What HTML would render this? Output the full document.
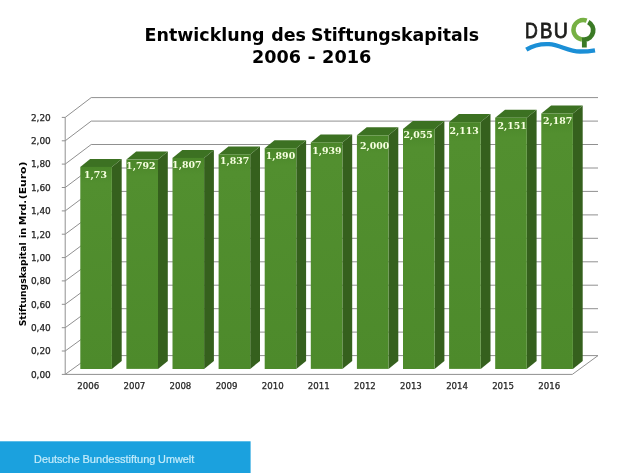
<!DOCTYPE html>
<html lang="de"><head><meta charset="utf-8"><title>Entwicklung des Stiftungskapitals 2006 - 2016</title>
<style>html,body{margin:0;padding:0;background:#fff}body{width:630px;height:473px;overflow:hidden}svg{display:block}.t{font-family:"DejaVu Sans","Liberation Sans",sans-serif;font-weight:bold;font-size:17px;fill:#000}.ax{font-family:"DejaVu Sans","Liberation Sans",sans-serif;font-size:8px;fill:#262626;stroke:#262626;stroke-width:0.25px}.yt{font-family:"DejaVu Sans","Liberation Sans",sans-serif;font-weight:bold;font-size:9.4px;fill:#000}.dl{font-family:"DejaVu Serif","Liberation Serif",serif;font-weight:bold;font-size:9.4px;fill:#f7ffe0}.ft{font-family:"Liberation Sans",sans-serif;font-size:11px;fill:#c4ecfb;stroke:#c4ecfb;stroke-width:0.2px}.lg{font-family:"Liberation Sans",sans-serif;font-size:21.3px;fill:#1d1d1b;stroke:#1d1d1b;stroke-width:0.8px}</style></head><body>
<svg width="630" height="473" viewBox="0 0 630 473">
<defs><linearGradient id="gf" x1="0" y1="0" x2="0" y2="1"><stop offset="0" stop-color="#4a8629"/><stop offset="0.08" stop-color="#528f2f"/><stop offset="1" stop-color="#4d8a2b"/></linearGradient></defs>
<rect width="630" height="473" fill="#fff"/>
<text class="t" x="144.6" y="41.2" textLength="120" lengthAdjust="spacingAndGlyphs">Entwicklung</text>
<text class="t" x="271.2" y="41.2" textLength="34.8" lengthAdjust="spacingAndGlyphs">des</text>
<text class="t" x="311" y="41.2" textLength="168" lengthAdjust="spacingAndGlyphs">Stiftungskapitals</text>
<text class="t" x="251.9" y="62.8" textLength="49" lengthAdjust="spacingAndGlyphs">2006</text>
<text class="t" x="307.4" y="62.8" textLength="8.2" lengthAdjust="spacingAndGlyphs">-</text>
<text class="t" x="322.1" y="62.8" textLength="49.3" lengthAdjust="spacingAndGlyphs">2016</text>
<path d="M61.8 374.4H65.2L91.2 355.6H598.0 M61.8 351.0H65.2L91.2 332.1H598.0 M61.8 327.7H65.2L91.2 308.7H598.0 M61.8 304.3H65.2L91.2 285.2H598.0 M61.8 280.9H65.2L91.2 261.8H598.0 M61.8 257.6H65.2L91.2 238.3H598.0 M61.8 234.2H65.2L91.2 214.9H598.0 M61.8 210.9H65.2L91.2 191.4H598.0 M61.8 187.5H65.2L91.2 168.0H598.0 M61.8 164.1H65.2L91.2 144.5H598.0 M61.8 140.8H65.2L91.2 121.1H598.0 M61.8 117.4H65.2L91.2 97.6H598.0 M65.2 117.4V374.4H572.3L598.0 355.6" fill="none" stroke="#909090" stroke-width="1"/>
<path d="M111.9 368.9L121.7 360.9V158.9L111.9 166.9Z" fill="#35601d"/>
<path d="M80.3 166.9L90.1 158.9H121.7L111.9 166.9Z" fill="#3c7122"/>
<rect x="80.3" y="166.9" width="31.6" height="202.1" fill="url(#gf)"/>
<text class="dl" x="95.5" y="178.2" text-anchor="middle">1,73</text>
<text class="ax" x="88.2" y="388.6" text-anchor="middle" textLength="21.9" lengthAdjust="spacingAndGlyphs">2006</text>
<path d="M158.0 368.9L167.8 360.9V151.6L158.0 159.6Z" fill="#35601d"/>
<path d="M126.4 159.6L136.2 151.6H167.8L158.0 159.6Z" fill="#3c7122"/>
<rect x="126.4" y="159.6" width="31.6" height="209.3" fill="url(#gf)"/>
<text class="dl" x="140.8" y="168.7" text-anchor="middle">1,792</text>
<text class="ax" x="134.4" y="388.6" text-anchor="middle" textLength="21.9" lengthAdjust="spacingAndGlyphs">2007</text>
<path d="M204.1 368.9L213.9 360.9V149.9L204.1 157.9Z" fill="#35601d"/>
<path d="M172.5 157.9L182.3 149.9H213.9L204.1 157.9Z" fill="#3c7122"/>
<rect x="172.5" y="157.9" width="31.6" height="211.1" fill="url(#gf)"/>
<text class="dl" x="186.8" y="168.1" text-anchor="middle">1,807</text>
<text class="ax" x="180.4" y="388.6" text-anchor="middle" textLength="21.9" lengthAdjust="spacingAndGlyphs">2008</text>
<path d="M250.2 368.9L260.0 360.9V146.4L250.2 154.4Z" fill="#35601d"/>
<path d="M218.6 154.4L228.4 146.4H260.0L250.2 154.4Z" fill="#3c7122"/>
<rect x="218.6" y="154.4" width="31.6" height="214.6" fill="url(#gf)"/>
<text class="dl" x="234.6" y="163.9" text-anchor="middle">1,837</text>
<text class="ax" x="226.6" y="388.6" text-anchor="middle" textLength="21.9" lengthAdjust="spacingAndGlyphs">2009</text>
<path d="M296.3 368.9L306.1 360.9V140.2L296.3 148.2Z" fill="#35601d"/>
<path d="M264.7 148.2L274.5 140.2H306.1L296.3 148.2Z" fill="#3c7122"/>
<rect x="264.7" y="148.2" width="31.6" height="220.8" fill="url(#gf)"/>
<text class="dl" x="280.5" y="158.7" text-anchor="middle">1,890</text>
<text class="ax" x="272.7" y="388.6" text-anchor="middle" textLength="21.9" lengthAdjust="spacingAndGlyphs">2010</text>
<path d="M342.4 368.9L352.2 360.9V134.4L342.4 142.4Z" fill="#35601d"/>
<path d="M310.8 142.4L320.6 134.4H352.2L342.4 142.4Z" fill="#3c7122"/>
<rect x="310.8" y="142.4" width="31.6" height="226.5" fill="url(#gf)"/>
<text class="dl" x="326.9" y="153.9" text-anchor="middle">1,939</text>
<text class="ax" x="318.8" y="388.6" text-anchor="middle" textLength="21.9" lengthAdjust="spacingAndGlyphs">2011</text>
<path d="M388.5 368.9L398.3 360.9V127.3L388.5 135.3Z" fill="#35601d"/>
<path d="M356.9 135.3L366.7 127.3H398.3L388.5 135.3Z" fill="#3c7122"/>
<rect x="356.9" y="135.3" width="31.6" height="233.6" fill="url(#gf)"/>
<text class="dl" x="374.6" y="148.8" text-anchor="middle">2,000</text>
<text class="ax" x="364.9" y="388.6" text-anchor="middle" textLength="21.9" lengthAdjust="spacingAndGlyphs">2012</text>
<path d="M434.6 368.9L444.4 360.9V120.9L434.6 128.9Z" fill="#35601d"/>
<path d="M403.0 128.9L412.8 120.9H444.4L434.6 128.9Z" fill="#3c7122"/>
<rect x="403.0" y="128.9" width="31.6" height="240.1" fill="url(#gf)"/>
<text class="dl" x="418.1" y="138.3" text-anchor="middle">2,055</text>
<text class="ax" x="410.9" y="388.6" text-anchor="middle" textLength="21.9" lengthAdjust="spacingAndGlyphs">2013</text>
<path d="M480.7 368.9L490.5 360.9V114.1L480.7 122.1Z" fill="#35601d"/>
<path d="M449.1 122.1L458.9 114.1H490.5L480.7 122.1Z" fill="#3c7122"/>
<rect x="449.1" y="122.1" width="31.6" height="246.8" fill="url(#gf)"/>
<text class="dl" x="464.1" y="133.7" text-anchor="middle">2,113</text>
<text class="ax" x="457.1" y="388.6" text-anchor="middle" textLength="21.9" lengthAdjust="spacingAndGlyphs">2014</text>
<path d="M526.8 368.9L536.6 360.9V109.7L526.8 117.7Z" fill="#35601d"/>
<path d="M495.2 117.7L505.0 109.7H536.6L526.8 117.7Z" fill="#3c7122"/>
<rect x="495.2" y="117.7" width="31.6" height="251.3" fill="url(#gf)"/>
<text class="dl" x="512.2" y="128.9" text-anchor="middle">2,151</text>
<text class="ax" x="503.1" y="388.6" text-anchor="middle" textLength="21.9" lengthAdjust="spacingAndGlyphs">2015</text>
<path d="M572.9 368.9L582.7 360.9V105.5L572.9 113.5Z" fill="#35601d"/>
<path d="M541.3 113.5L551.1 105.5H582.7L572.9 113.5Z" fill="#3c7122"/>
<rect x="541.3" y="113.5" width="31.6" height="255.5" fill="url(#gf)"/>
<text class="dl" x="557.7" y="124.3" text-anchor="middle">2,187</text>
<text class="ax" x="549.2" y="388.6" text-anchor="middle" textLength="21.9" lengthAdjust="spacingAndGlyphs">2016</text>
<text class="ax" x="50.8" y="377.7" text-anchor="end" textLength="19.9" lengthAdjust="spacingAndGlyphs">0,00</text>
<text class="ax" x="50.8" y="354.3" text-anchor="end" textLength="19.9" lengthAdjust="spacingAndGlyphs">0,20</text>
<text class="ax" x="50.8" y="331.0" text-anchor="end" textLength="19.9" lengthAdjust="spacingAndGlyphs">0,40</text>
<text class="ax" x="50.8" y="307.6" text-anchor="end" textLength="19.9" lengthAdjust="spacingAndGlyphs">0,60</text>
<text class="ax" x="50.8" y="284.2" text-anchor="end" textLength="19.9" lengthAdjust="spacingAndGlyphs">0,80</text>
<text class="ax" x="50.8" y="260.9" text-anchor="end" textLength="19.9" lengthAdjust="spacingAndGlyphs">1,00</text>
<text class="ax" x="50.8" y="237.5" text-anchor="end" textLength="19.9" lengthAdjust="spacingAndGlyphs">1,20</text>
<text class="ax" x="50.8" y="214.2" text-anchor="end" textLength="19.9" lengthAdjust="spacingAndGlyphs">1,40</text>
<text class="ax" x="50.8" y="190.8" text-anchor="end" textLength="19.9" lengthAdjust="spacingAndGlyphs">1,60</text>
<text class="ax" x="50.8" y="167.4" text-anchor="end" textLength="19.9" lengthAdjust="spacingAndGlyphs">1,80</text>
<text class="ax" x="50.8" y="144.1" text-anchor="end" textLength="19.9" lengthAdjust="spacingAndGlyphs">2,00</text>
<text class="ax" x="50.8" y="120.7" text-anchor="end" textLength="19.9" lengthAdjust="spacingAndGlyphs">2,20</text>
<text class="yt" transform="translate(26 326.3) rotate(-90)" textLength="84.0" lengthAdjust="spacingAndGlyphs">Stiftungskapital</text>
<text class="yt" transform="translate(26 238.0) rotate(-90)" textLength="10.3" lengthAdjust="spacingAndGlyphs">in</text>
<text class="yt" transform="translate(26 225.3) rotate(-90)" textLength="25.3" lengthAdjust="spacingAndGlyphs">Mrd.</text>
<text class="yt" transform="translate(26 199.3) rotate(-90)" textLength="37.8" lengthAdjust="spacingAndGlyphs">(Euro)</text>
<text class="lg" x="525.1" y="38.3" textLength="12.8" lengthAdjust="spacingAndGlyphs">D</text>
<text class="lg" x="540.0" y="38.3" textLength="12.4" lengthAdjust="spacingAndGlyphs">B</text>
<text class="lg" x="553.7" y="38.3" textLength="14.1" lengthAdjust="spacingAndGlyphs">U</text>
<path d="M526.3 49.6C534 45 542 43.8 549 44.2C560 44.8 568 51.5 580 51.5C586 51.5 591 51 595 50.3" fill="none" stroke="#1b8fd6" stroke-width="4.3"/>
<path d="M586.65 20.59A9.8 9.8 0 1 0 581.94 39.5" fill="none" stroke="#76b043" stroke-width="4.4"/>
<path d="M588.27 22.09A9.3 9.3 0 0 1 584.35 39.6V47.5" fill="none" stroke="#3a7a25" stroke-width="4.8"/>
<rect x="0" y="441.3" width="250.6" height="32" fill="#1ba1de"/>
<text class="ft" x="34.1" y="463" textLength="45.6" lengthAdjust="spacingAndGlyphs">Deutsche</text>
<text class="ft" x="82.5" y="463" textLength="73" lengthAdjust="spacingAndGlyphs">Bundesstiftung</text>
<text class="ft" x="158.1" y="463" textLength="36.2" lengthAdjust="spacingAndGlyphs">Umwelt</text>
</svg></body></html>
